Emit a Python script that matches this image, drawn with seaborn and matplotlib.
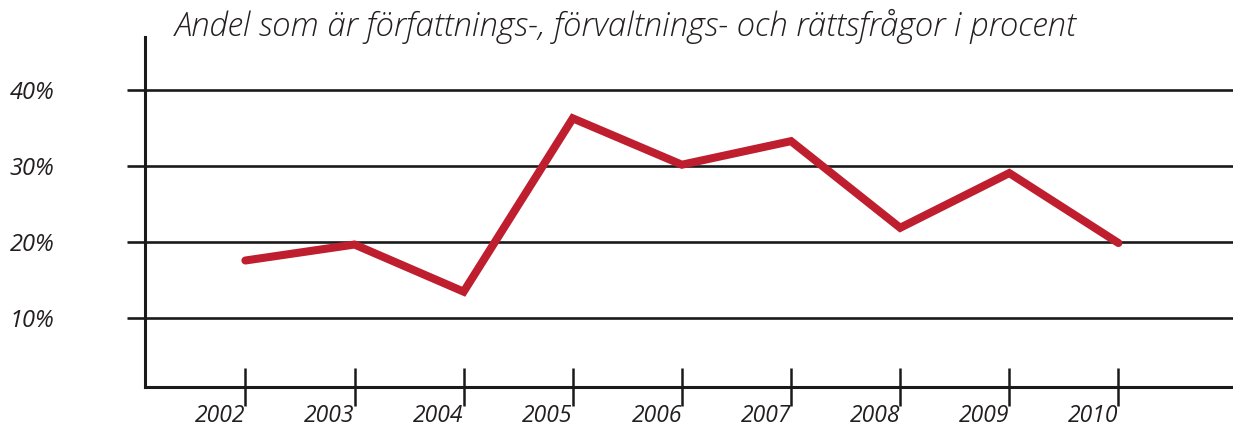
import matplotlib
matplotlib.use("Agg")
import matplotlib.pyplot as plt
import seaborn as sns
import pandas as pd

years = [2002, 2003, 2004, 2005, 2006, 2007, 2008, 2009, 2010]
andel = [17.6, 19.7, 13.5, 36.3, 30.2, 33.3, 21.9, 29.1, 19.9]
ytick_vals = [10, 20, 30, 40]
ytick_labels = ["10%", "20%", "30%", "40%"]
title = "Andel som är författnings-, förvaltnings- och rättsfrågor i procent"

df = pd.DataFrame({"year": years, "andel": andel})

sns.set_style("white")
plt.rcParams["font.family"] = ["Open Sans", "DejaVu Sans"]

W, H = 1233, 428
fig = plt.figure(figsize=(W / 100, H / 100), dpi=100)
ax = fig.add_axes([145 / W, 1 - 386.7 / H, (W - 145) / W, (386.7 - 37) / H])

sns.lineplot(data=df, x="year", y="andel", ax=ax, color="#be1e2d",
             linewidth=5.8, solid_joinstyle="miter", zorder=3)

ax.set_xlim(2001.08, 2011.05)
ax.set_ylim(1.0, 47.0)

ax.set_yticks(ytick_vals)
ax.set_yticklabels(ytick_labels, fontsize=17, style="italic", color="#231f20")
ax.set_xticks(years)
ax.set_xticklabels([str(y) for y in years], fontsize=16.5, style="italic",
                   color="#231f20", ha="right")

for v in ytick_vals:
    ax.axhline(v, color="#1a1a1a", linewidth=1.9, zorder=1)

ax.tick_params(axis="y", left=True, length=13, width=1.9, direction="out",
               pad=52, color="#1a1a1a")
ax.tick_params(axis="x", bottom=True, length=27, width=1.8,
               direction="inout", pad=-1, color="#1a1a1a")

for s in ["top", "right"]:
    ax.spines[s].set_visible(False)
for s in ["left", "bottom"]:
    ax.spines[s].set_linewidth(2.2)
    ax.spines[s].set_color("#1a1a1a")

ax.set_xlabel("")
ax.set_ylabel("")

fig.text(175 / W, 1 - 26 / H, title, fontsize=23.8, style="italic",
         fontweight="light", color="#231f20", va="center", ha="left")

fig.savefig("out.png", dpi=100)
